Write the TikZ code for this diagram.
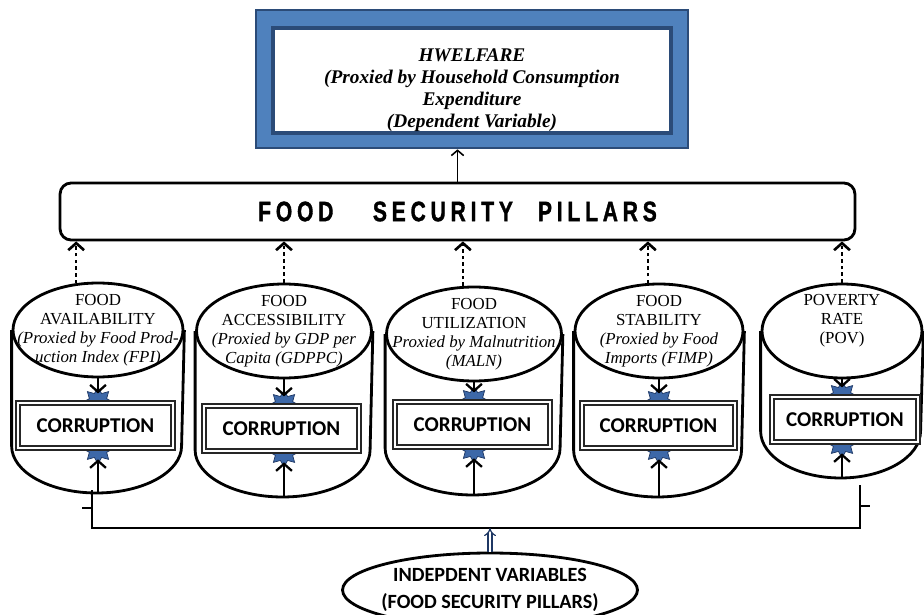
\documentclass[tikz,border=0pt]{standalone}
\usepackage{fontspec}
\setmainfont{Liberation Serif}
\newfontfamily\calfont{Carlito}
\newfontfamily\pillarfont[FakeStretch=0.75,FakeBold=1.2,LetterSpace=17]{Liberation Sans}
\usetikzlibrary{shapes.geometric,arrows.meta,backgrounds}
\definecolor{frameblue}{HTML}{4F81BD}
\definecolor{framedark}{HTML}{2B4B78}
\definecolor{knotblue}{HTML}{3D68A8}
\definecolor{knotdark}{HTML}{1F3864}
\tikzset{
  pillartop/.style={ellipse,draw,line width=1.6pt,fill=white,minimum height=1.88cm},
  toptext/.style={align=center,font=\fontsize{9.6}{10.8}\selectfont},
  cylline/.style={line width=1.6pt},
  corrbox/.style={draw=black!85,double=white,double distance=1.3pt,line width=0.9pt,fill=white,
    minimum width=3.1cm,minimum height=0.9cm,font=\calfont\bfseries\fontsize{12}{14}\selectfont},
  dotarrow/.style={line width=1.5pt,dash pattern=on 2pt off 1.8pt,-{Straight Barb[length=4pt,width=9pt]}},
  solidarrow/.style={line width=1.3pt,-{Straight Barb[length=4pt,width=9pt]}},
  knot/.style={star,star points=8,star point ratio=1.6,fill=knotblue,
    draw=knotdark,line width=0.4pt,minimum size=0.6cm,inner sep=0pt},
  dblarrow/.style={draw=knotdark,double=white,double distance=1.6pt,line width=0.7pt,-{Implies}},
}
\begin{document}
\begin{tikzpicture}[x=0.02cm,y=-0.02cm]
\useasboundingbox (0,0) rectangle (924,615);

% The dependent variable
\node (welfare) at (472,79) [draw=framedark,line width=1.5pt,fill=frameblue,minimum width=8.64cm,minimum height=2.76cm] {};
\node (welfarein) at (472,80.5) [draw=framedark,line width=2pt,fill=white,minimum width=7.96cm,minimum height=2.1cm,
  label={[align=center,yshift=-0.2cm,font=\bfseries\itshape\fontsize{11}{12.5}\selectfont]center:{HWELFARE\\(Proxied by Household Consumption\\Expenditure\\(Dependent Variable)}}] {};

% The pillars box
\node (pillars) at (457.5,211.5) [draw,line width=1.6pt,rounded corners=0.22cm,minimum width=15.9cm,minimum height=1.14cm,
  font=\pillarfont\bfseries\fontsize{16}{18}\selectfont] {FOOD\hspace{0.79cm}SECURITY\hspace{0.5cm}PILLARS};
\draw[line width=0.9pt,-{Straight Barb[length=3pt,width=7pt]}] (pillars.north) -- (pillars.north |- welfare.south);

% Cylinder tops
\node (avail) at (98,330) [pillartop,minimum width=3.4cm,
  label={[toptext]center:{FOOD\\AVAILABILITY\\\textit{(Proxied by Food Prod-}\\\textit{uction Index (FPI)}}}] {};
\node (access) at (284,331) [pillartop,minimum width=3.5cm,
  label={[toptext]center:{FOOD\\ACCESSIBILITY\\\textit{(Proxied by GDP per}\\\textit{Capita (GDPPC)}}}] {};
\node (util) at (474,334) [pillartop,minimum width=3.5cm,
  label={[toptext]center:{FOOD\\UTILIZATION\\\textit{Proxied by Malnutrition}\\\textit{(MALN)}}}] {};
\node (stab) at (659,331) [pillartop,minimum width=3.36cm,
  label={[toptext]center:{FOOD\\STABILITY\\\textit{(Proxied by Food}\\\textit{Imports (FIMP)}}}] {};
\node (pov) at (842,331) [pillartop,minimum width=3.2cm,
  label={[toptext,yshift=0.06cm]center:{POVERTY\\RATE\\(POV)\\\mbox{}}}] {};

% Cylinder bodies
\draw[cylline] (avail.west) -- ++(0,116) arc[start angle=180,end angle=360,x radius=1.7cm,y radius=0.94cm] -- (avail.east);
\draw[cylline] (access.west) -- ++(0,119) arc[start angle=180,end angle=360,x radius=1.75cm,y radius=0.94cm] -- (access.east);
\draw[cylline] (util.west) -- ++(0,114) arc[start angle=180,end angle=360,x radius=1.75cm,y radius=0.94cm] -- (util.east);
\draw[cylline] (stab.west) -- ++(0,119) arc[start angle=180,end angle=360,x radius=1.68cm,y radius=0.94cm] -- (stab.east);
\draw[cylline] (pov.west) -- ++(0,100) arc[start angle=180,end angle=360,x radius=1.6cm,y radius=0.94cm] -- (pov.east);
\path (avail.center) ++(0,163) coordinate(availbot);
\path (access.center) ++(0,166) coordinate(accessbot);
\path (util.center) ++(0,161) coordinate(utilbot);
\path (stab.center) ++(0,166) coordinate(stabbot);
\path (pov.center) ++(0,147) coordinate(povbot);

% Corruption boxes
\node (corrA) at (95.5,425.5) [corrbox] {CORRUPTION};
\node (corrB) at (281.5,428.5) [corrbox] {CORRUPTION};
\node (corrC) at (472.5,424.5) [corrbox] {CORRUPTION};
\node (corrD) at (658.5,425.5) [corrbox,minimum width=3.06cm] {CORRUPTION};
\node (corrE) at (845,419.5) [corrbox,minimum width=2.92cm] {CORRUPTION};

\begin{pgfonlayer}{background}
\node (knotAn) at (corrA.north -| avail.south) [knot] {};
\node (knotAs) at (corrA.south -| availbot) [knot] {};
\node (knotBn) at (corrB.north -| access.south) [knot] {};
\node (knotBs) at (corrB.south -| accessbot) [knot] {};
\node (knotCn) at (corrC.north -| util.south) [knot] {};
\node (knotCs) at (corrC.south -| utilbot) [knot] {};
\node (knotDn) at (corrD.north -| stab.south) [knot] {};
\node (knotDs) at (corrD.south -| stabbot) [knot] {};
\node (knotEn) at (corrE.north -| pov.south) [knot] {};
\node (knotEs) at (corrE.south -| povbot) [knot] {};
\end{pgfonlayer}

% pillars up to the box
\draw[dotarrow] (avail.115) -- (avail.115 |- pillars.south);
\draw[dotarrow] (access.north) -- (access.north |- pillars.south);
\draw[dotarrow] (util.103) -- (util.103 |- pillars.south);
\draw[dotarrow] (stab.103) -- (stab.103 |- pillars.south);
\draw[dotarrow] (pov.north) -- (pov.north |- pillars.south);

% corruption arrows
\draw[solidarrow,shorten >=5pt] (avail.south) -- (knotAn.center);
\draw[solidarrow,shorten >=5pt] (access.south) -- (knotBn.center);
\draw[solidarrow,shorten >=5pt] (util.south) -- (knotCn.center);
\draw[solidarrow,shorten >=5pt] (stab.south) -- (knotDn.center);
\draw[solidarrow,shorten >=5pt] (pov.south) -- (knotEn.center);
\draw[solidarrow,shorten >=6pt] (availbot) -- (knotAs.center);
\draw[solidarrow,shorten >=6pt] (accessbot) -- (knotBs.center);
\draw[solidarrow,shorten >=6pt] (utilbot) -- (knotCs.center);
\draw[solidarrow,shorten >=6pt] (stabbot) -- (knotDs.center);
\draw[solidarrow,shorten >=6pt] (povbot) -- (knotEs.center);

% the bracket
\coordinate (busleft) at (92,528);
\coordinate (busright) at (860,528);
\draw[line width=1.1pt] (busleft) ++(0,-38) -- (busleft) -- (busright) -- ++(0,-43);
\draw[line width=1.1pt] (busleft) ++(0,-20) -- ++(-10,0);
\draw[line width=1.1pt] (busright) ++(0,-22) -- ++(10,0);

% independent variables
\node (indep) at (490,590) [ellipse,draw,line width=1.6pt,fill=white,minimum width=5.9cm,minimum height=1.48cm,
  label={[align=center,font=\calfont\bfseries\fontsize{11.5}{15.3}\selectfont]center:{INDEPDENT VARIABLES\\(FOOD SECURITY PILLARS)}}] {};
\draw[dblarrow] (indep.north) -- (indep.north |- busleft);

\end{tikzpicture}
\end{document}
